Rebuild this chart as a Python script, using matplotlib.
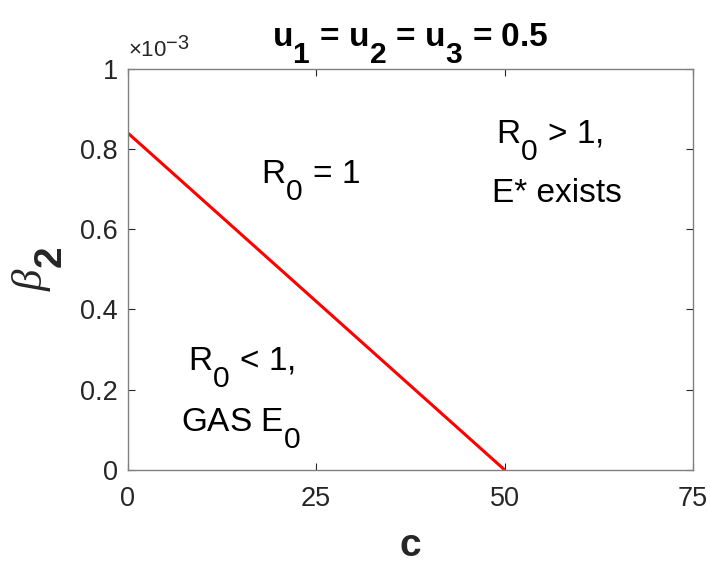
import matplotlib
matplotlib.use("Agg")
import matplotlib.pyplot as plt
import matplotlib._mathtext as mathtext_impl
from matplotlib.ticker import FuncFormatter

plt.rcParams['font.family'] = ['Liberation Sans', 'DejaVu Sans']
plt.rcParams['mathtext.fontset'] = 'custom'
plt.rcParams['mathtext.rm'] = 'Liberation Sans'
plt.rcParams['mathtext.it'] = 'Liberation Serif:italic'
plt.rcParams['mathtext.bf'] = 'Liberation Sans:bold'

# TeX-style subscripts: nearly full size and dropped well below the baseline
mathtext_impl.SHRINK_FACTOR = 0.9
mathtext_impl.FontConstantsBase.sub1 = 1.1

# R0 = 1 threshold curve in the (c, beta_2) plane
c_vals = [0, 50]
beta2_vals = [0.84e-3, 0.0]

x_ticks = [0, 25, 50, 75]
y_ticks = [0, 0.2e-3, 0.4e-3, 0.6e-3, 0.8e-3, 1.0e-3]

axis_col = '#262626'

fig = plt.figure(figsize=(7.10, 5.64), dpi=100)
ax = fig.add_axes([0.180, 0.167, 0.796, 0.711])

ax.plot(c_vals, beta2_vals, color='#ff0000', lw=2.2, solid_capstyle='butt')

ax.set_xlim(0, 75)
ax.set_ylim(0, 1e-3)
ax.set_xticks(x_ticks)
ax.set_yticks(y_ticks)
ax.yaxis.set_major_formatter(FuncFormatter(lambda v, p: f"{v * 1e3:g}"))

ax.tick_params(direction='in', length=5, width=0.8, colors=axis_col,
               labelsize=19.5, top=True, right=True)
ax.tick_params(axis='y', pad=7)
ax.tick_params(axis='x', pad=12)
for s in ax.spines.values():
    s.set_color('#808080')
    s.set_linewidth(1.0)

ax.text(0.0, 1.018, r'$\times$10$^{-3}$', transform=ax.transAxes,
        fontsize=16, color=axis_col, ha='left', va='bottom')

ax.set_title(r'u$_\mathbf{1}$ = u$_\mathbf{2}$ = u$_\mathbf{3}$ = 0.5',
             fontsize=24, fontweight='bold', color='black', pad=16)
ax.set_xlabel('c', fontsize=28, fontweight='bold', color=axis_col,
              labelpad=11)
ax.set_ylabel(r'$\beta_\mathbf{2}$', fontsize=31, color=axis_col)
ax.yaxis.set_label_coords(-0.112, 0.5)

txt = dict(fontsize=24, ha='center', va='baseline', color='black')
ax.text(24.2, 0.713e-3, r'R$_0$ = 1', **txt)
ax.text(56.0, 0.813e-3, r'R$_0$ > 1,', **txt)
ax.text(56.9, 0.668e-3, 'E* exists', **txt)
ax.text(15.1, 0.249e-3, r'R$_0$ < 1,', **txt)
ax.text(15.0, 0.095e-3, r'GAS E$_0$', **txt)

fig.savefig('out.png', dpi=100)
